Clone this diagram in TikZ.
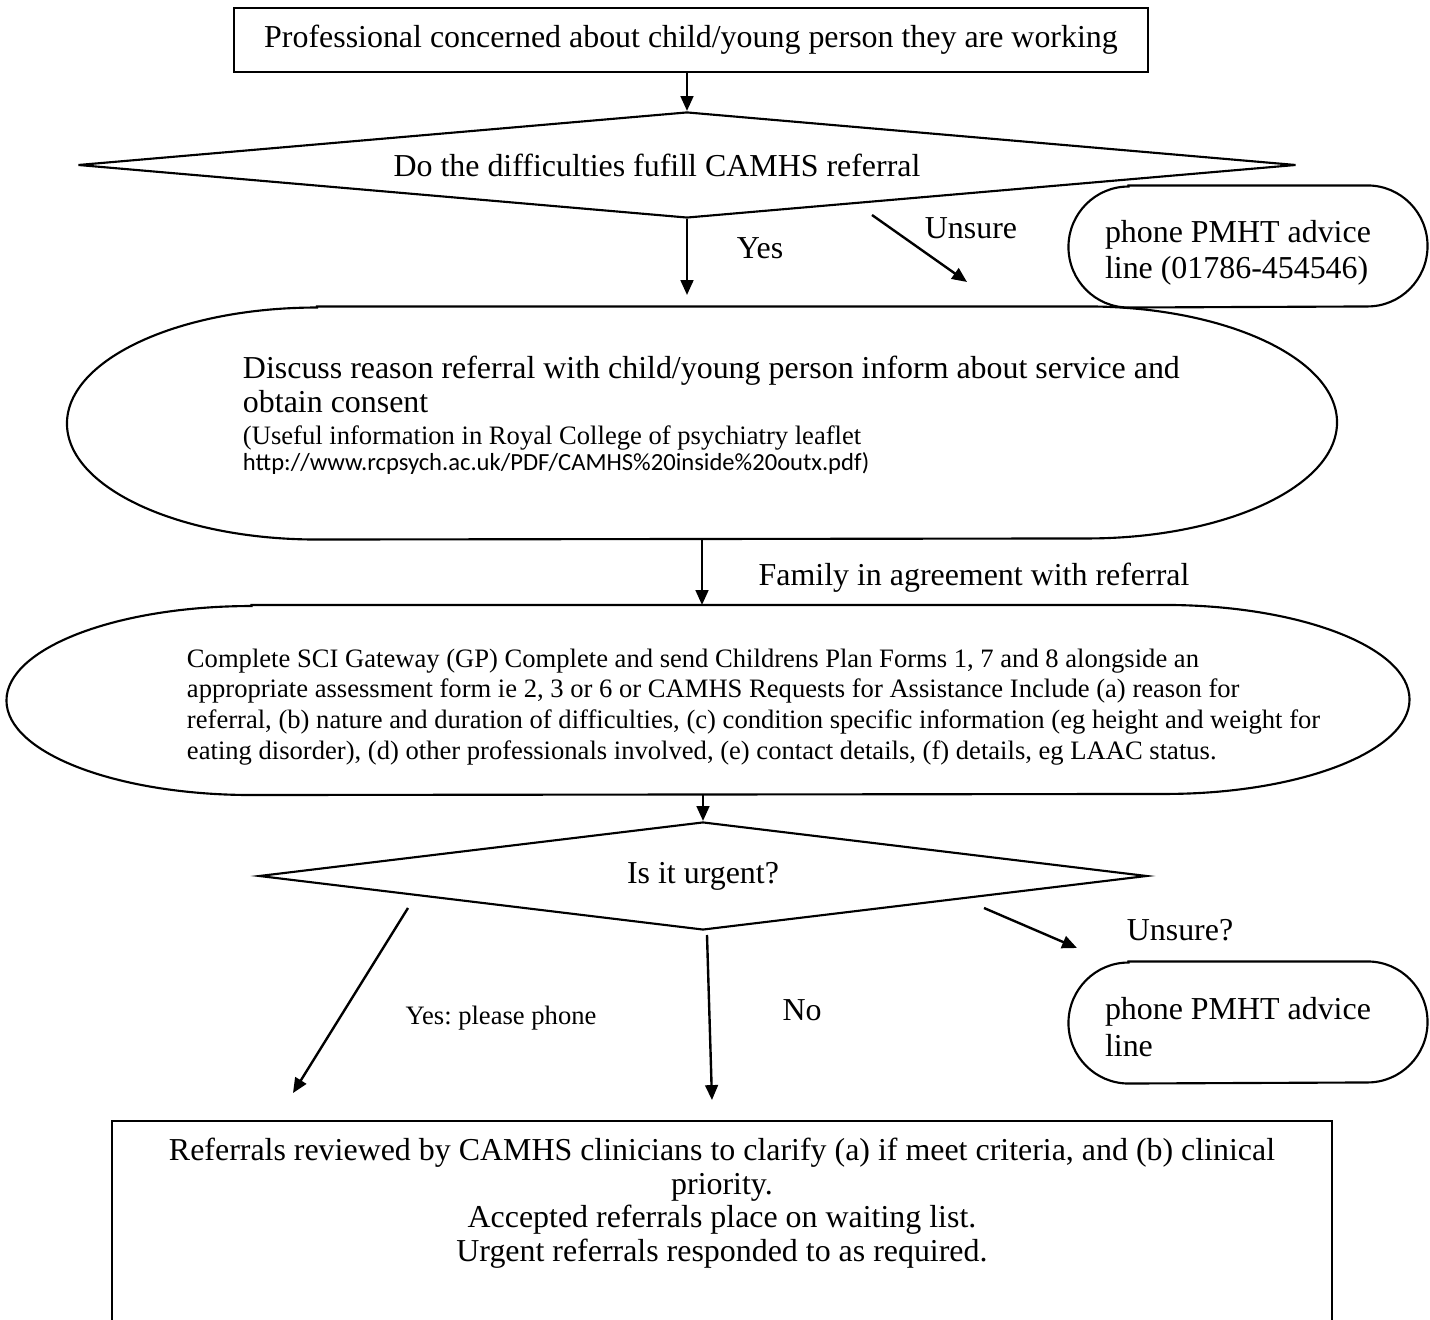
\documentclass[tikz,border=0pt]{standalone}
\usepackage{fontspec}
\setmainfont{Liberation Serif}
\newfontfamily\urlfont{Carlito}
\usetikzlibrary{shapes.geometric,arrows.meta}
\frenchspacing

% one pixel of the layout
\newlength\un
\setlength\un{0.01322cm}

% terminator outline round a node: name, x radius, y radius (in pixels)
\newcommand{\termframe}[3]{%
  \draw [line width=0.8pt] ([xshift=#2*\un]#1.north west)
    -- ([xshift=-#2*\un]#1.north east)
    arc [start angle=90,end angle=-90,x radius=#2*\un,y radius=#3*\un]
    -- ([xshift=#2*\un]#1.south west)
    arc [start angle=270,end angle=90,x radius=#2*\un,y radius=#3*\un]
    -- cycle;}

\begin{document}
\begin{tikzpicture}[x=0.01322cm,y=-0.01322cm,
    font=\fontsize{12}{13.8}\selectfont,
    box/.style={draw,line width=0.8pt},
    dec/.style={diamond,draw,line width=0.8pt,inner sep=0pt},
    term/.style={align=flush left},
    arr/.style={-{Triangle[length=5.6pt,width=4.8pt]},line width=0.9pt},
    lbl/.style={inner sep=0pt}]
  \useasboundingbox (0,0) rectangle (1430,1320);
  \clip (0,0) rectangle (1430,1320);

  % Start box and first question
  \node [box,minimum width=914*\un,minimum height=64*\un] (prof) at (691,40)
    {Professional concerned about child/young person they are working};
  \node [dec,aspect=11.5,minimum width=1218*\un,minimum height=106*\un]
    (fulfil) at (687,165) {\hspace*{-60\un}Do the difficulties fufill CAMHS referral};
  \draw [arr] (fulfil.north |- prof.south) -- (fulfil.north);

  % Advice line
  \node [term,minimum width=358*\un,minimum height=121*\un,text width=286*\un]
    (advice) at (1248,246.5) {\rule{0pt}{13.1pt}phone PMHT advice\\line (01786-454546)};
  \termframe{advice}{60}{60.5}

  % Discussion with child/young person
  \node [term,minimum width=1269*\un,minimum height=232*\un,text width=1000*\un]
    (discuss) at (702,423) {\leftskip=41\un
    {\fontsize{12}{13}\selectfont Discuss reason referral with child/young person inform about service and\\
    obtain consent\par}
    \vspace{2pt}
    {\fontsize{10}{9.8}\selectfont (Useful information in Royal College of psychiatry leaflet\\
    {\urlfont\fontsize{9.25}{9.8}\selectfont http://www.rcpsych.ac.uk/PDF/CAMHS\%20inside\%20outx.pdf)}\rule[-7.5pt]{0pt}{1pt}\par}};
  \termframe{discuss}{250}{116}

  % Yes / Unsure
  \coordinate (yesend) at (687,295);
  \draw [arr] (fulfil.south) -- (yesend);
  \node [lbl] (yes) at (760,248) {Yes};
  \coordinate (unsurestart) at (872,215);
  \coordinate (unsureend) at (967,282);
  \draw [arr] (unsurestart) -- (unsureend);
  \node [lbl] (unsure) at (971,228) {Unsure};

  % Referral forms
  \node [term,minimum width=1402*\un,minimum height=189*\un,text width=1260*\un]
    (complete) at (708,700) {\leftskip=109\un \fontsize{10}{11.6}\selectfont
    \rule{0pt}{12.2pt}Complete SCI Gateway (GP) Complete and send Childrens Plan Forms 1, 7 and 8 alongside an\\
    appropriate assessment form ie 2, 3 or 6 or CAMHS Requests for Assistance Include (a) reason for\\
    referral, (b) nature and duration of difficulties, (c) condition specific information (eg height and weight for\\
    eating disorder), (d) other professionals involved, (e) contact details, (f) details, eg LAAC status.\par};
  \termframe{complete}{245}{94.5}
  \draw [arr] (discuss.south) -- (discuss.south |- complete.north);
  \node [lbl] (agree) at (974,578) {Family in agreement with referral};

  % Urgency
  \node [dec,aspect=8.2,minimum width=888*\un,minimum height=108*\un]
    (urgent) at (703,876) {Is it urgent?};
  \draw [arr] (urgent.north |- complete.south) -- (urgent.north);

  \node [term,minimum width=358*\un,minimum height=121*\un,text width=286*\un]
    (advice2) at (1248,1022.5) {\rule{0pt}{11.6pt}phone PMHT advice\\line};
  \termframe{advice2}{60}{60.5}

  \coordinate (phonestart) at (408,908);
  \coordinate (phoneend) at (293,1093);
  \draw [arr] (phonestart) -- (phoneend);
  \node [lbl,font=\fontsize{10}{12}\selectfont] (phone) at (501,1018) {Yes: please phone};
  \coordinate (nostart) at (707,935);
  \coordinate (noend) at (712,1100);
  \draw [arr] (nostart) -- (noend);
  \node [lbl] (no) at (802,1010) {No};
  \coordinate (unsure2start) at (984,908);
  \coordinate (unsure2end) at (1077,948);
  \draw [arr] (unsure2start) -- (unsure2end);
  \node [lbl] (unsure2) at (1180,930) {Unsure?};

  % Clinician review
  \node [box,anchor=north,minimum width=1220*\un,text width=1190*\un,align=flush center,
    inner ysep=6.5pt,text depth=60pt,font=\fontsize{12}{12.6}\selectfont]
    (review) at (722,1120)
    {Referrals reviewed by CAMHS clinicians to clarify (a) if meet criteria, and (b) clinical\\
    priority.\\
    Accepted referrals place on waiting list.\\
    Urgent referrals responded to as required.};
\end{tikzpicture}
\end{document}
